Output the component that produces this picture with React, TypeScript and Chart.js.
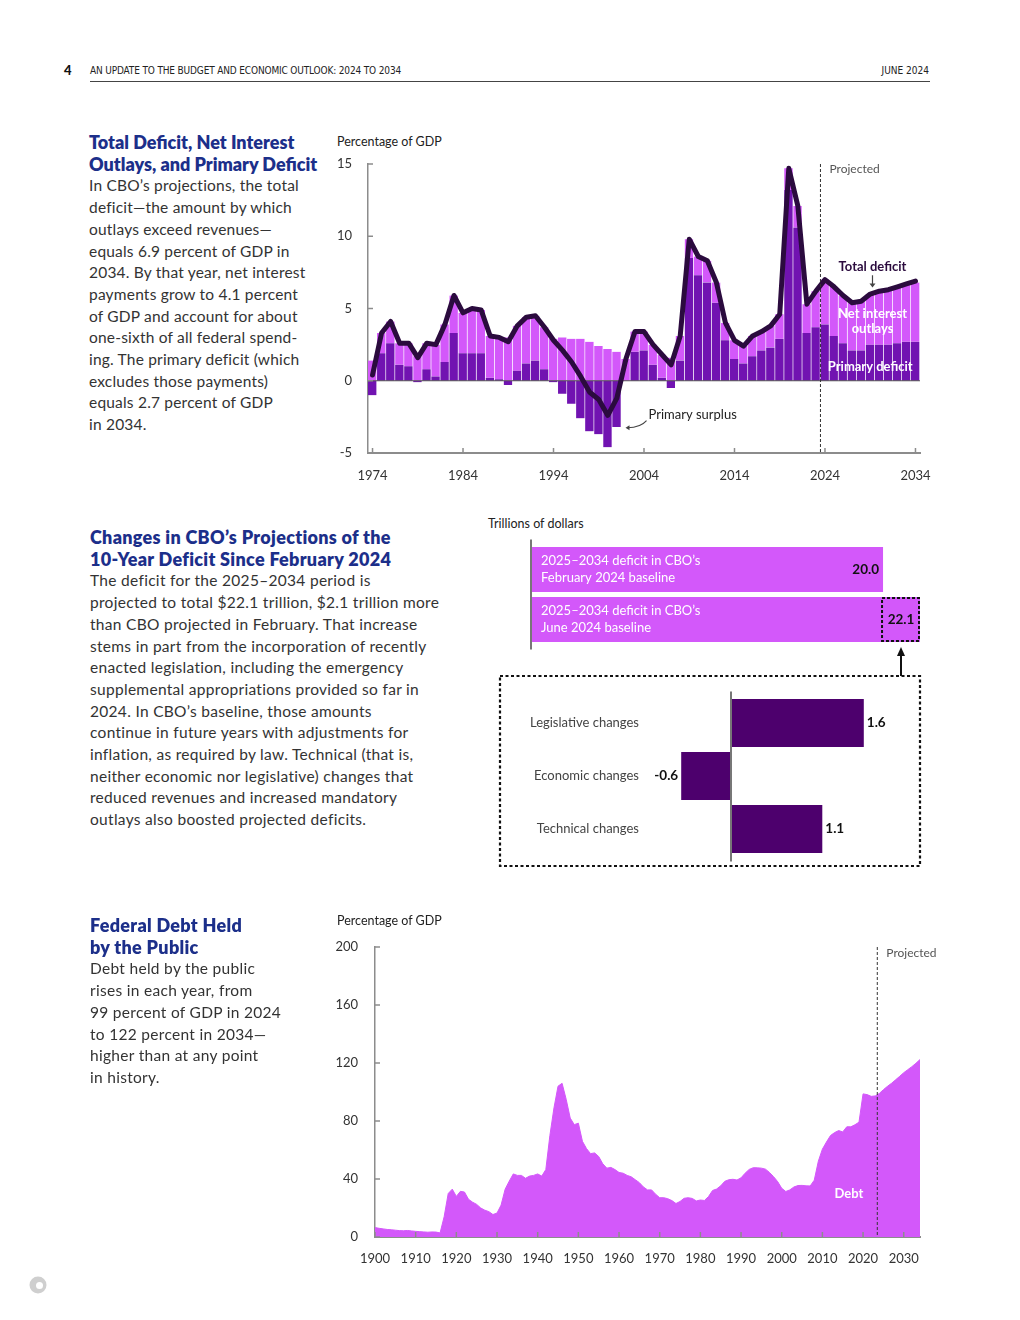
import React, { useEffect, useRef } from 'react';
import { Chart, registerables } from 'chart.js';
Chart.register(...registerables);

const FONT = 'Lato, "Open Sans", sans-serif';
Chart.defaults.font.family = FONT;

const LIGHT = '#d358fa';
const DARK = '#7113b1';
const LINE = '#2b0b3e';
const DEEP = '#4d006d';
const BLUE = '#1c2f8a';

// ---------- Chart 1: deficits, % of GDP ----------
const deficitYears: string[] = Array.from({ length: 61 }, (_, i) => String(1974 + i));
const primaryDeficit = [
  -1.0, 1.9, 2.6, 1.1, 1.0, -0.1, 0.8, 0.3, 1.3, 3.3,
  1.9, 1.9, 1.9, 0.2, 0.1, -0.3, 0.7, 1.2, 1.4, 0.8,
  -0.1, -0.9, -1.6, -2.6, -3.5, -3.7, -4.6, -3.2, 0.0, 2.0,
  2.1, 1.1, 0.2, -0.5, 1.4, 8.5, 7.3, 6.8, 5.4, 2.8,
  1.5, 1.2, 1.7, 2.1, 2.3, 2.9, 13.2, 10.6, 3.3, 3.7,
  3.9, 3.1, 2.6, 2.1, 2.1, 2.5, 2.5, 2.5, 2.6, 2.7, 2.7,
];
const netInterest = [
  1.4, 1.4, 1.5, 1.5, 1.6, 1.7, 1.8, 2.2, 2.6, 2.6,
  2.8, 3.1, 3.0, 2.9, 2.9, 3.0, 3.1, 3.2, 3.1, 2.9,
  2.9, 3.0, 2.9, 2.9, 2.7, 2.4, 2.2, 2.0, 1.5, 1.4,
  1.3, 1.4, 1.6, 1.6, 1.7, 1.3, 1.3, 1.5, 1.4, 1.2,
  1.3, 1.2, 1.4, 1.3, 1.5, 1.7, 1.5, 1.5, 2.0, 2.5,
  3.1, 3.4, 3.3, 3.3, 3.4, 3.5, 3.7, 3.8, 3.9, 4.0, 4.1,
];
const totalDeficit = [
  0.4, 3.3, 4.1, 2.6, 2.6, 1.6, 2.6, 2.5, 3.9, 5.9,
  4.7, 5.0, 4.9, 3.1, 3.0, 2.7, 3.8, 4.4, 4.5, 3.7,
  2.8, 2.1, 1.3, 0.3, -0.8, -1.3, -2.4, -1.2, 1.5, 3.4,
  3.4, 2.5, 1.8, 1.1, 3.1, 9.8, 8.6, 8.3, 6.8, 4.0,
  2.8, 2.4, 3.1, 3.4, 3.8, 4.6, 14.7, 12.1, 5.3, 6.2,
  7.0, 6.5, 5.9, 5.4, 5.5, 6.0, 6.2, 6.3, 6.5, 6.7, 6.9,
];
const deficitTicks = [-5, 0, 5, 10, 15];
const firstProjectedDeficitIndex = 50; // 2024

// ---------- Chart 2: 10-year deficit, trillions ----------
const baselineNames = ['February 2024 baseline', 'June 2024 baseline'];
const baselineTotals = [20.0, 22.1];
const changeCategories = ['Legislative changes', 'Economic changes', 'Technical changes'];
const changeValues = [1.6, -0.6, 1.1];

// ---------- Chart 3: debt held by public ----------
const debtYears: string[] = Array.from({ length: 135 }, (_, i) => String(1900 + i));
const debtHeld = [
  6.5, 6.0, 5.6, 5.2, 5.0, 4.7, 4.4, 4.3, 4.5, 4.2,
  3.9, 3.7, 3.5, 3.3, 3.5, 3.4, 2.8, 14.0, 30.0, 33.0,
  28.0, 31.5, 31.0, 26.0, 24.0, 22.5, 20.0, 18.5, 17.5, 15.5,
  16.5, 22.0, 33.0, 38.5, 43.5, 42.5, 42.5, 40.5, 42.0, 42.5,
  43.5, 42.0, 46.5, 70.0, 89.0, 104.0, 106.0, 95.0, 82.0, 77.5,
  78.5, 66.0, 61.0, 57.5, 58.0, 55.5, 50.5, 47.5, 48.0, 46.5,
  44.5, 44.0, 42.5, 41.5, 39.5, 37.5, 34.5, 32.5, 32.5, 29.5,
  27.1, 27.1, 26.4, 25.1, 23.1, 24.5, 26.7, 27.1, 26.6, 24.9,
  25.5, 25.2, 27.9, 32.1, 33.1, 35.3, 38.4, 39.5, 39.8, 39.3,
  40.8, 44.0, 46.6, 47.8, 47.7, 47.5, 46.8, 44.5, 41.6, 38.2,
  33.6, 31.4, 32.5, 34.5, 35.5, 35.6, 35.3, 35.2, 39.2, 52.2,
  60.6, 65.5, 70.0, 72.0, 73.4, 72.5, 76.0, 76.0, 77.4, 79.2,
  98.7, 98.2, 97.0, 97.3, 99.0, 101.6, 103.9, 106.0, 108.4, 110.8,
  113.3, 115.4, 117.5, 119.8, 122.4,
];
const debtTicks = [0, 40, 80, 120, 160, 200];
const firstProjectedDebtIndex = 124; // 2024

// ---------- helpers ----------
function txt(ctx: CanvasRenderingContext2D, s: string, x: number, y: number, font: string, color: string, align: CanvasTextAlign = 'left') {
  ctx.save();
  ctx.font = font;
  ctx.fillStyle = color;
  ctx.textAlign = align;
  ctx.textBaseline = 'middle';
  ctx.fillText(s, x, y);
  ctx.restore();
}
function seg(ctx: CanvasRenderingContext2D, x1: number, y1: number, x2: number, y2: number, color: string, w: number, dash: number[] = []) {
  ctx.save();
  ctx.strokeStyle = color;
  ctx.lineWidth = w;
  ctx.setLineDash(dash);
  ctx.beginPath();
  ctx.moveTo(x1, y1);
  ctx.lineTo(x2, y2);
  ctx.stroke();
  ctx.restore();
}
function idxPx(scale: any, idx: number) {
  const p0 = scale.getPixelForValue(0);
  const p1 = scale.getPixelForValue(1);
  return p0 + (p1 - p0) * idx;
}
const TICK = '#8c8c8c';
const noPad = (s: any) => { s.paddingTop = 0; s.paddingBottom = 0; s.paddingLeft = 0; s.paddingRight = 0; };

const deficitDecor = {
  id: 'deficitDecor',
  afterDatasetDraw(chart: any, args: any) {
    if (args.index !== 0) return;
    const { ctx, chartArea: a, scales } = chart;
    const y0 = scales.y.getPixelForValue(0);
    seg(ctx, a.left, y0, a.right, y0, '#555', 1.2);
  },
  afterDatasetsDraw(chart: any) {
    const { ctx, chartArea: a, scales } = chart;
    const { x, y } = scales;
    deficitYears.forEach((yr, i) => {
      if ((Number(yr) - 1974) % 10 === 0) {
        const px = x.getPixelForValue(i);
        seg(ctx, px, a.bottom, px, a.bottom - 5, TICK, 1.5);
      }
    });
    deficitTicks.forEach((v) => {
      const py = y.getPixelForValue(v);
      seg(ctx, a.left, py, a.left + 5, py, TICK, 1.5);
    });
    const dx = idxPx(x, firstProjectedDeficitIndex - 0.5);
    seg(ctx, dx, a.top, dx, a.bottom, '#333', 1, [3, 2]);
    txt(ctx, 'Projected', dx + 9, a.top + 5, `12px ${FONT}`, '#555');
    const lx = idxPx(x, 55.25);
    txt(ctx, 'Total deficit', lx, y.getPixelForValue(7.9), `bold 13px ${FONT}`, LINE, 'center');
    const ay1 = y.getPixelForValue(7.3);
    const ay2 = y.getPixelForValue(6.45);
    seg(ctx, lx, ay1, lx, ay2 - 3, '#444', 1.2);
    ctx.save();
    ctx.fillStyle = '#444';
    ctx.beginPath();
    ctx.moveTo(lx - 3, ay2 - 4);
    ctx.lineTo(lx + 3, ay2 - 4);
    ctx.lineTo(lx, ay2);
    ctx.closePath();
    ctx.fill();
    ctx.restore();
    txt(ctx, 'Net interest', lx, y.getPixelForValue(4.64), `bold 13px ${FONT}`, '#fff', 'center');
    txt(ctx, 'outlays', lx, y.getPixelForValue(3.6), `bold 13px ${FONT}`, '#fff', 'center');
    txt(ctx, 'Primary deficit', idxPx(x, 55.0), y.getPixelForValue(0.97), `bold 13px ${FONT}`, '#fff', 'center');
    const sx = idxPx(x, 30.5);
    const sy = y.getPixelForValue(-2.35);
    txt(ctx, 'Primary surplus', sx, sy, `13px ${FONT}`, '#222');
    ctx.save();
    ctx.strokeStyle = '#444';
    ctx.lineWidth = 1.1;
    ctx.beginPath();
    ctx.moveTo(sx - 2, sy + 6);
    ctx.quadraticCurveTo(sx - 8, sy + 13, sx - 21, sy + 13);
    ctx.stroke();
    ctx.fillStyle = '#444';
    ctx.beginPath();
    ctx.moveTo(sx - 23, sy + 13);
    ctx.lineTo(sx - 19, sy + 10.5);
    ctx.lineTo(sx - 19, sy + 15.5);
    ctx.closePath();
    ctx.fill();
    ctx.restore();
  },
};

const baselineDecor = {
  id: 'baselineDecor',
  afterDatasetsDraw(chart: any) {
    const { ctx, chartArea: a, scales } = chart;
    const x = scales.x;
    const x0 = x.getPixelForValue(0);
    seg(ctx, x0, a.top - 5, x0, a.bottom + 5, '#777', 2);
    const meta = chart.getDatasetMeta(0);
    meta.data.forEach((bar: any, i: number) => {
      txt(ctx, '2025–2034 deficit in CBO’s', x0 + 10, bar.y - 8.5, `13px ${FONT}`, '#fff');
      txt(ctx, baselineNames[i], x0 + 10, bar.y + 8.5, `13px ${FONT}`, '#fff');
    });
    const b0 = meta.data[0];
    txt(ctx, baselineTotals[0].toFixed(1), b0.x - 4, b0.y, `bold 13.5px ${FONT}`, '#111', 'right');
    const b1 = meta.data[1];
    const bl = x.getPixelForValue(baselineTotals[0]) - 1;
    const top = b1.y - b1.height / 2;
    ctx.save();
    ctx.strokeStyle = '#111';
    ctx.lineWidth = 2;
    ctx.setLineDash([3, 2]);
    ctx.strokeRect(bl, top + 1, b1.x - bl - 1, b1.height - 2);
    ctx.restore();
    txt(ctx, baselineTotals[1].toFixed(1), (bl + b1.x) / 2, b1.y, `bold 13.5px ${FONT}`, '#111', 'center');
  },
};

const changeDecor = {
  id: 'changeDecor',
  afterDatasetsDraw(chart: any) {
    const { ctx, chartArea: a, scales } = chart;
    const x0 = scales.x.getPixelForValue(0);
    seg(ctx, x0, a.top - 5, x0, a.bottom + 6, '#777', 2);
    const meta = chart.getDatasetMeta(0);
    meta.data.forEach((bar: any, i: number) => {
      txt(ctx, changeCategories[i], a.left - 9, bar.y, `13px ${FONT}`, '#444', 'right');
      const v = changeValues[i];
      const s = v.toFixed(1);
      if (v >= 0) txt(ctx, s, bar.x + 3, bar.y, `bold 13.5px ${FONT}`, '#111', 'left');
      else txt(ctx, s, bar.x - 3, bar.y, `bold 13.5px ${FONT}`, '#111', 'right');
    });
  },
};

const debtDecor = {
  id: 'debtDecor',
  afterDatasetsDraw(chart: any) {
    const { ctx, chartArea: a, scales } = chart;
    const { x, y } = scales;
    debtYears.forEach((yr, i) => {
      if (Number(yr) % 10 === 0) {
        const px = x.getPixelForValue(i);
        seg(ctx, px, a.bottom, px, a.bottom - 5, TICK, 1.5);
      }
    });
    debtTicks.forEach((v) => {
      const py = y.getPixelForValue(v);
      seg(ctx, a.left, py, a.left + 5, py, TICK, 1.5);
    });
    const dx = idxPx(x, firstProjectedDebtIndex - 0.5);
    seg(ctx, dx, a.top, dx, a.bottom, '#333', 1, [3, 2]);
    txt(ctx, 'Projected', dx + 9, a.top + 6, `12px ${FONT}`, '#555');
    txt(ctx, 'Debt', idxPx(x, 116.5), y.getPixelForValue(29.7), `bold 13px ${FONT}`, '#fff', 'center');
  },
};

const baseOpts = {
  animation: false,
  responsive: true,
  maintainAspectRatio: false,
  events: [] as any[],
  plugins: { legend: { display: false }, tooltip: { enabled: false } },
};

function makeDeficit(): any {
  return {
    type: 'bar',
    data: {
      labels: deficitYears,
      datasets: [
        {
          type: 'bar', label: 'Primary deficit', data: primaryDeficit, backgroundColor: DARK,
          stack: 's', order: 1, barPercentage: 1, categoryPercentage: 1,
          borderWidth: { left: 0, right: 1, top: 0, bottom: 0 }, borderColor: 'rgba(255,255,255,0.28)', borderSkipped: false,
        },
        {
          type: 'bar', label: 'Net interest outlays', data: netInterest, backgroundColor: LIGHT,
          stack: 's', order: 2, barPercentage: 1, categoryPercentage: 1,
          borderWidth: { left: 0, right: 1, top: 0, bottom: 0 }, borderColor: 'rgba(255,255,255,0.28)', borderSkipped: false,
        },
        {
          type: 'line', label: 'Total deficit', data: totalDeficit, borderColor: LINE, borderWidth: 5,
          pointRadius: 0, tension: 0, stack: 'line', order: 0, borderJoinStyle: 'round', borderCapStyle: 'round',
        },
      ],
    },
    options: {
      ...baseOpts,
      layout: { padding: { top: 14, right: 20, left: 0, bottom: 0 } },
      scales: {
        x: {
          stacked: true, offset: true,
          grid: { display: false, drawTicks: false },
          border: { display: true, color: TICK, width: 2 },
          ticks: {
            autoSkip: false, maxRotation: 0, padding: 15, color: '#333', font: { size: 13 },
            callback: (_v: any, i: number) => ((Number(deficitYears[i]) - 1974) % 10 === 0 ? deficitYears[i] : null),
          },
          afterFit: (s: any) => { s.height = 37; noPad(s); },
        },
        y: {
          stacked: true, min: -5, max: 15,
          grid: { display: false, drawTicks: false },
          border: { display: true, color: TICK, width: 1.5 },
          ticks: { stepSize: 5, padding: 16, color: '#333', font: { size: 13 } },
          afterFit: (s: any) => { s.width = 38; noPad(s); },
        },
      },
    },
    plugins: [deficitDecor],
  };
}

function makeBaseline(): any {
  return {
    type: 'bar',
    data: {
      labels: baselineNames,
      datasets: [{ data: baselineTotals, backgroundColor: LIGHT, barPercentage: 0.9, categoryPercentage: 1 }],
    },
    options: {
      ...baseOpts,
      indexAxis: 'y',
      layout: { padding: { left: 53, right: 8, top: 9.5, bottom: 10.5 } },
      scales: {
        x: { display: false, min: 0, max: 22.1 },
        y: { display: false },
      },
    },
    plugins: [baselineDecor],
  };
}

function makeChanges(): any {
  return {
    type: 'bar',
    data: {
      labels: changeCategories,
      datasets: [{ data: changeValues, backgroundColor: DEEP, barPercentage: 0.906, categoryPercentage: 1 }],
    },
    options: {
      ...baseOpts,
      indexAxis: 'y',
      layout: { padding: { left: 148, right: 4.4, top: 16.5, bottom: 8.5 } },
      scales: {
        x: { display: false, min: -1.0, max: 2.2 },
        y: { display: false },
      },
    },
    plugins: [changeDecor],
  };
}

function makeDebt(): any {
  return {
    type: 'line',
    data: {
      labels: debtYears,
      datasets: [{
        data: debtHeld, fill: 'origin', backgroundColor: LIGHT, borderColor: LIGHT, borderWidth: 1,
        pointRadius: 0, tension: 0,
      }],
    },
    options: {
      ...baseOpts,
      layout: { padding: { top: 17, right: 20, left: 0, bottom: 0 } },
      scales: {
        x: {
          offset: false,
          grid: { display: false, drawTicks: false },
          border: { display: true, color: TICK, width: 2 },
          ticks: {
            autoSkip: false, maxRotation: 0, padding: 14, color: '#333', font: { size: 13 },
            callback: (_v: any, i: number) => (Number(debtYears[i]) % 10 === 0 ? debtYears[i] : null),
          },
          afterFit: (s: any) => { s.height = 38; noPad(s); },
        },
        y: {
          min: 0, max: 200,
          grid: { display: false, drawTicks: false },
          border: { display: true, color: TICK, width: 1.5 },
          ticks: { stepSize: 40, padding: 17, color: '#333', font: { size: 13 } },
          afterFit: (s: any) => { s.width = 45; noPad(s); },
        },
      },
    },
    plugins: [debtDecor],
  };
}

function ChartBox({ left, top, width, height, make }: { left: number; top: number; width: number; height: number; make: () => any }) {
  const ref = useRef<HTMLCanvasElement>(null);
  useEffect(() => {
    const c = new Chart(ref.current as HTMLCanvasElement, make());
    return () => c.destroy();
  }, []);
  return (
    <div style={{ position: 'absolute', left, top, width, height }}>
      <canvas ref={ref} />
    </div>
  );
}

function Block({ left, top, title, body, titleSpacing, bodyStyle }: { left: number; top: number; title: string[]; body: string[]; titleSpacing: string; bodyStyle?: React.CSSProperties }) {
  return (
    <div style={{ position: 'absolute', left, top, fontFamily: FONT, lineHeight: '21.7px', whiteSpace: 'nowrap' }}>
      {title.map((t, i) => (
        <div key={'t' + i} style={{ fontSize: 18, fontWeight: 800, color: BLUE, letterSpacing: titleSpacing }}>{t}</div>
      ))}
      {body.map((t, i) => (
        <div key={'b' + i} style={{ fontSize: 15.5, color: '#333', ...bodyStyle }}>{t}</div>
      ))}
    </div>
  );
}

const lbl: React.CSSProperties = { position: 'absolute', fontFamily: FONT, fontSize: 12.5, color: '#222', lineHeight: '16px', whiteSpace: 'nowrap' };
const HEAD_FONT = '"Liberation Sans Narrow", "DejaVu Sans Condensed", sans-serif';

export default function App() {
  return (
    <div style={{ position: 'absolute', left: 0, top: 0, width: 1020, height: 1320, background: '#fff', overflow: 'hidden' }}>
      {/* header */}
      <div style={{ position: 'absolute', left: 64, top: 62, fontFamily: FONT, fontWeight: 900, fontSize: 13, color: '#111' }}>4</div>
      <div style={{ position: 'absolute', left: 90, top: 65, fontFamily: HEAD_FONT, fontSize: 10, letterSpacing: '-0.15px', color: '#222', whiteSpace: 'nowrap' }}>
        AN UPDATE TO THE BUDGET AND ECONOMIC OUTLOOK: 2024 TO 2034
      </div>
      <div style={{ position: 'absolute', right: 1020 - 929, top: 65, fontFamily: HEAD_FONT, fontSize: 10, color: '#222', whiteSpace: 'nowrap' }}>
        JUNE 2024
      </div>
      <div style={{ position: 'absolute', left: 90, top: 81, width: 840, height: 1, background: '#444' }} />

      {/* section 1 */}
      <Block
        left={89}
        top={132}
        titleSpacing="0px"
        title={['Total Deficit, Net Interest', 'Outlays, and Primary Deficit']}
        bodyStyle={{ letterSpacing: '0.2px' }}
        body={[
          'In CBO’s projections, the total',
          'deficit—the amount by which',
          'outlays exceed revenues—',
          'equals 6.9 percent of GDP in',
          '2034. By that year, net interest',
          'payments grow to 4.1 percent',
          'of GDP and account for about',
          'one-sixth of all federal spend-',
          'ing. The primary deficit (which',
          'excludes those payments)',
          'equals 2.7 percent of GDP',
          'in 2034.',
        ]}
      />
      <div style={{ ...lbl, left: 337, top: 134 }}>Percentage of GDP</div>
      <ChartBox left={330} top={150} width={610} height={340} make={makeDeficit} />

      {/* section 2 */}
      <Block
        left={90}
        top={527}
        titleSpacing="0.3px"
        title={['Changes in CBO’s Projections of the', '10-Year Deficit Since February 2024']}
        bodyStyle={{ letterSpacing: '0.3px' }}
        body={[
          'The deficit for the 2025–2034 period is',
          'projected to total $22.1 trillion, $2.1 trillion more',
          'than CBO projected in February. That increase',
          'stems in part from the incorporation of recently',
          'enacted legislation, including the emergency',
          'supplemental appropriations provided so far in',
          '2024. In CBO’s baseline, those amounts',
          'continue in future years with adjustments for',
          'inflation, as required by law. Technical (that is,',
          'neither economic nor legislative) changes that',
          'reduced revenues and increased mandatory',
          'outlays also boosted projected deficits.',
        ]}
      />
      <div style={{ ...lbl, left: 488, top: 516 }}>Trillions of dollars</div>
      <ChartBox left={478} top={535} width={450} height={120} make={makeBaseline} />
      <ChartBox left={500} top={680} width={418} height={184} make={makeChanges} />
      <svg width={1020} height={1320} style={{ position: 'absolute', left: 0, top: 0, pointerEvents: 'none' }}>
        <rect x={500} y={676} width={420} height={190} fill="none" stroke="#111" strokeWidth={2.2} strokeDasharray="3 2.5" />
        <line x1={901} y1={676} x2={901} y2={654} stroke="#111" strokeWidth={2} />
        <polygon points="901,647 897,656 905,656" fill="#111" />
        <circle cx={38} cy={1285} r={8.5} fill="#cfcfcf" />
        <circle cx={39.5} cy={1285.5} r={3.5} fill="#fff" />
      </svg>

      {/* section 3 */}
      <Block
        left={90}
        top={915}
        titleSpacing="0.3px"
        title={['Federal Debt Held', 'by the Public']}
        bodyStyle={{ letterSpacing: '0.3px' }}
        body={[
          'Debt held by the public',
          'rises in each year, from',
          '99 percent of GDP in 2024',
          'to 122 percent in 2034—',
          'higher than at any point',
          'in history.',
        ]}
      />
      <div style={{ ...lbl, left: 337, top: 913 }}>Percentage of GDP</div>
      <ChartBox left={330} top={930} width={610} height={345} make={makeDebt} />
    </div>
  );
}
